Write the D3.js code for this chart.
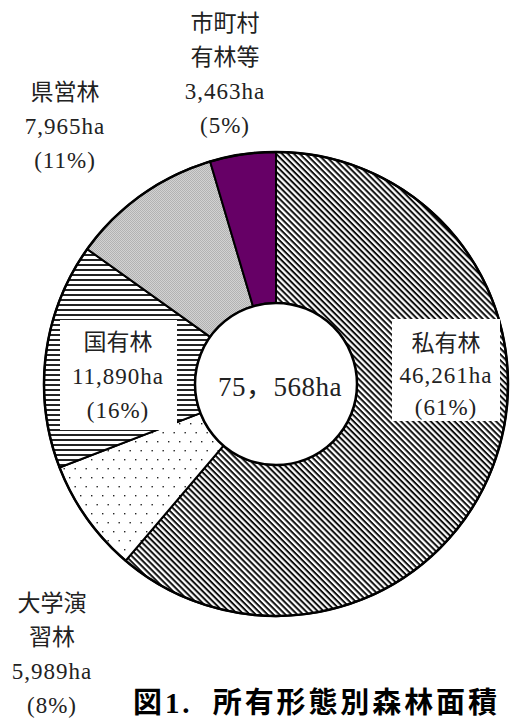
<!DOCTYPE html>
<html lang="ja">

<head>
    <meta charset="UTF-8">
    <title>所有形態別森林面積</title>
    <script src="https://cdn.jsdelivr.net/npm/d3@7/dist/d3.min.js"></script>
    <style>
        body { margin: 0; background: #fff; }
        svg text { font-family: "Liberation Serif", "Noto Sans CJK JP", serif; fill: #222; }
    </style>
</head>

<body>
    <div id="chart"></div>

    <script>
        // データ (時計回り、12時の位置から)
        const categories = ["私有林", "大学演習林", "国有林", "県営林", "市町村有林等"];
        const values = [46261, 5989, 11890, 7965, 3463];
        const percents = ["61%", "8%", "16%", "11%", "5%"];
        // ラベルの改行
        const nameLines = [["私有林"], ["大学演", "習林"], ["国有林"], ["県営林"], ["市町村", "有林等"]];
        const title = "図1.  所有形態別森林面積";

        const width = 510;
        const height = 722;
        const cx = 276, cy = 384;
        const outerR = 232, innerR = 81;

        // ラベル位置 (中心x, 各行のy)
        const labelPos = [
            { x: 446, y: 343, dy: 32, box: [392, 319, 108, 102] },
            { x: 52, y: 603, dy: 34 },
            { x: 118, y: 342, dy: 34, box: [60, 320, 117, 110] },
            { x: 65, y: 92, dy: 34 },
            { x: 225, y: 23, dy: 34 }
        ];

        const svg = d3.select("#chart").append("svg")
            .attr("width", width).attr("height", height);

        // 模様
        const defs = svg.append("defs");

        // 私有林: 斜線
        defs.append("pattern").attr("id", "p0")
            .attr("patternUnits", "userSpaceOnUse")
            .attr("width", 4.2).attr("height", 4.2)
            .attr("patternTransform", "rotate(45)")
            .call(p => {
                p.append("rect").attr("width", 4.2).attr("height", 4.2).attr("fill", "#fff");
                p.append("rect").attr("width", 4.2).attr("height", 2).attr("fill", "#111");
            });

        // 大学演習林: 点
        defs.append("pattern").attr("id", "p1")
            .attr("patternUnits", "userSpaceOnUse")
            .attr("width", 11).attr("height", 18)
            .call(p => {
                p.append("rect").attr("width", 11).attr("height", 18).attr("fill", "#fff");
                p.append("rect").attr("x", 2).attr("y", 3).attr("width", 1.4).attr("height", 1.4).attr("fill", "#222");
                p.append("rect").attr("x", 7.5).attr("y", 12).attr("width", 1.4).attr("height", 1.4).attr("fill", "#222");
            });

        // 国有林: 横線
        defs.append("pattern").attr("id", "p2")
            .attr("patternUnits", "userSpaceOnUse")
            .attr("width", 10).attr("height", 5)
            .call(p => {
                p.append("rect").attr("width", 10).attr("height", 5).attr("fill", "#fff");
                p.append("rect").attr("y", 0).attr("width", 10).attr("height", 2).attr("fill", "#222");
            });

        // 県営林: 灰色の細かい網
        defs.append("pattern").attr("id", "p3")
            .attr("patternUnits", "userSpaceOnUse")
            .attr("width", 2).attr("height", 2)
            .call(p => {
                p.append("rect").attr("width", 2).attr("height", 2).attr("fill", "#d2d2d2");
                p.append("rect").attr("width", 1).attr("height", 1).attr("fill", "#b2b2b2");
                p.append("rect").attr("x", 1).attr("y", 1).attr("width", 1).attr("height", 1).attr("fill", "#b2b2b2");
            });

        const fills = ["url(#p0)", "url(#p1)", "url(#p2)", "url(#p3)", "#660066"];

        const pie = d3.pie().sort(null).value(d => d);
        const arc = d3.arc().innerRadius(innerR).outerRadius(outerR);

        const g = svg.append("g").attr("transform", `translate(${cx},${cy})`);

        g.selectAll("path").data(pie(values)).enter().append("path")
            .attr("d", arc)
            .attr("fill", (d, i) => fills[i])
            .attr("stroke", "#000")
            .attr("stroke-width", 2)
            .attr("stroke-linejoin", "round");

        // 外周を少し太く
        g.append("circle").attr("r", outerR).attr("fill", "none").attr("stroke", "#000").attr("stroke-width", 2.5);
        g.append("circle").attr("r", innerR).attr("fill", "#fff").attr("stroke", "#000").attr("stroke-width", 2.5);

        // 合計
        const total = d3.sum(values);
        g.append("text")
            .attr("x", 4).attr("y", 3)
            .attr("text-anchor", "middle")
            .attr("dominant-baseline", "central")
            .attr("font-size", "27px")
            .attr("letter-spacing", "0.5px")
            .text(d3.format(",")(total).replace(",", "，") + "ha");

        // ラベル
        const fmt = d3.format(",");
        categories.forEach((c, i) => {
            const pos = labelPos[i];
            if (pos.box) {
                svg.append("rect")
                    .attr("x", pos.box[0]).attr("y", pos.box[1])
                    .attr("width", pos.box[2]).attr("height", pos.box[3])
                    .attr("fill", "#fff");
            }
            const lines = nameLines[i].concat([fmt(values[i]) + "ha", "(" + percents[i] + ")"]);
            svg.selectAll(null).data(lines).enter().append("text")
                .attr("x", pos.x)
                .attr("y", (d, j) => pos.y + j * pos.dy)
                .attr("text-anchor", "middle")
                .attr("dominant-baseline", "central")
                .attr("font-size", "23px")
                .attr("letter-spacing", (d, j) => j < nameLines[i].length ? "0px" : "1px")
                .text(d => d);
        });

        // タイトル
        svg.append("text")
            .attr("x", 133).attr("y", 703)
            .attr("dominant-baseline", "central")
            .attr("font-family", "'Noto Sans CJK JP', sans-serif")
            .attr("font-weight", "bold")
            .attr("font-size", "29px")
            .attr("textLength", 364)
            .attr("lengthAdjust", "spacing")
            .style("white-space", "pre")
            .style("fill", "#000")
            .text(title);
    </script>
</body>

</html>
